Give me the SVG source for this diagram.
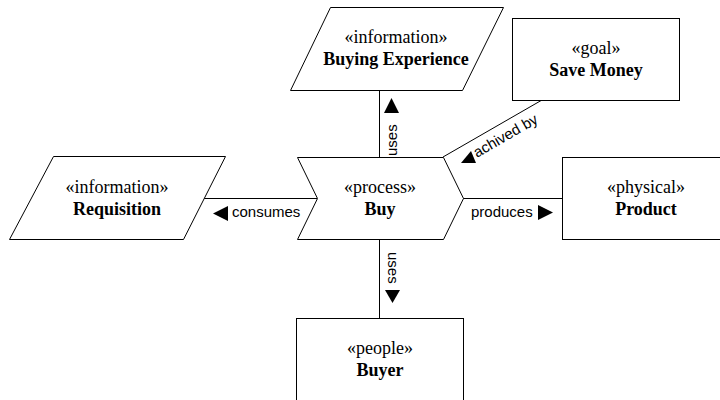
<svg xmlns="http://www.w3.org/2000/svg" width="720" height="400" viewBox="0 0 720 400">
  <style>
    .shape { fill: #ffffff; stroke: #000000; stroke-width: 1; }
    .edge { fill: none; stroke: #000000; stroke-width: 1; }
    .head { fill: #000000; stroke: none; }
    .stereo { font-family: "Liberation Serif", "Times New Roman", serif; font-size: 18px; fill: #000000; text-anchor: middle; }
    .name { font-family: "Liberation Serif", "Times New Roman", serif; font-size: 18px; font-weight: bold; fill: #000000; text-anchor: middle; }
    .label { font-family: "Liberation Sans", Arial, sans-serif; font-size: 15px; fill: #000000; }
  </style>
  <rect width="720" height="400" fill="#ffffff"/>

  <!-- connectors -->
  <g id="connectors">
    <line class="edge" x1="379.5" y1="90" x2="379.5" y2="157"/>
    <polygon class="head" points="391.5,98 399,113 384,113"/>
    <text class="label" transform="translate(397,156) rotate(-90)">uses</text>

    <line class="edge" x1="443" y1="157" x2="542" y2="100"/>
    <polygon class="head" points="471,151 476,163 461,163"/>
    <text class="label" transform="translate(477,158) rotate(-30)">achived by</text>

    <line class="edge" x1="204" y1="198.5" x2="317" y2="198.5"/>
    <polygon class="head" points="213,213.5 228,206 228,221"/>
    <text class="label" x="232" y="217">consumes</text>

    <line class="edge" x1="463" y1="198.5" x2="562" y2="198.5"/>
    <polygon class="head" points="553,212.5 538,205 538,220"/>
    <text class="label" x="471" y="217">produces</text>

    <line class="edge" x1="379.5" y1="239" x2="379.5" y2="318"/>
    <polygon class="head" points="392.5,303 385,290 400,290"/>
    <text class="label" transform="translate(387.5,252) rotate(90)">uses</text>
  </g>

  <!-- nodes -->
  <g id="buying-experience">
    <polygon class="shape" points="330.5,7.5 503.5,7.5 462.5,90.5 290.5,90.5"/>
    <text class="stereo" x="396" y="43">«information»</text>
    <text class="name" x="396" y="65">Buying Experience</text>
  </g>

  <g id="save-money">
    <rect class="shape" x="512.5" y="18.5" width="167" height="82"/>
    <text class="stereo" x="596" y="54">«goal»</text>
    <text class="name" x="596" y="76">Save Money</text>
  </g>

  <g id="requisition">
    <polygon class="shape" points="53.5,156.5 225.5,156.5 183.5,239.5 9.5,239.5"/>
    <text class="stereo" x="117" y="193">«information»</text>
    <text class="name" x="117" y="215">Requisition</text>
  </g>

  <g id="buy">
    <polygon class="shape" points="297.5,157.5 443.5,157.5 463.5,198.5 443.5,239.5 297.5,239.5 317.5,198.5"/>
    <text class="stereo" x="380" y="193">«process»</text>
    <text class="name" x="380" y="215">Buy</text>
  </g>

  <g id="product">
    <rect class="shape" x="562.5" y="157.5" width="167" height="82"/>
    <text class="stereo" x="646" y="193">«physical»</text>
    <text class="name" x="646" y="215">Product</text>
  </g>

  <g id="buyer">
    <rect class="shape" x="296.5" y="318.5" width="167" height="90"/>
    <text class="stereo" x="380" y="354">«people»</text>
    <text class="name" x="380" y="376">Buyer</text>
  </g>
</svg>
